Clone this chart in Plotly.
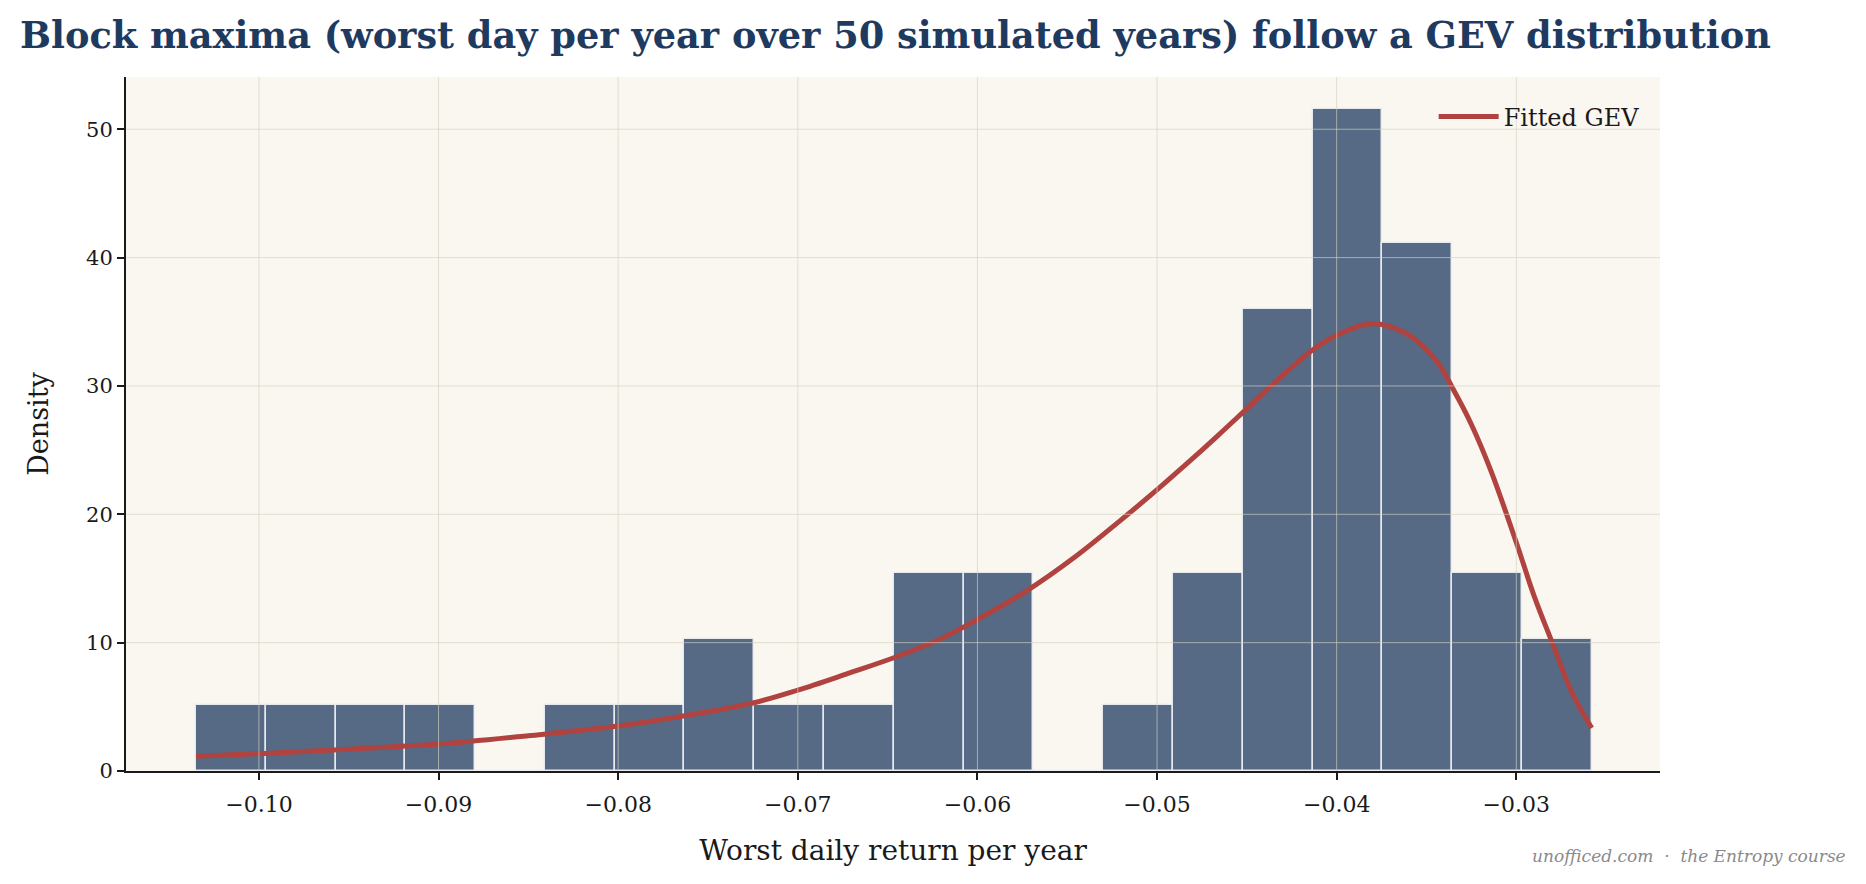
import plotly.graph_objects as go

# ---- data ----
n_years = 50
bin_edges = [-0.10350, -0.09962, -0.09573, -0.09185, -0.08796, -0.08408, -0.08019,
             -0.07631, -0.07242, -0.06854, -0.06465, -0.06077, -0.05688, -0.05300,
             -0.04911, -0.04523, -0.04134, -0.03746, -0.03357, -0.02969, -0.02580]
bin_counts = [1, 1, 1, 1, 0, 1, 1, 2, 1, 1, 3, 3, 0, 1, 3, 7, 10, 8, 3, 2]

gev_x = [-0.1035, -0.1000, -0.0950, -0.0900, -0.0850, -0.0800, -0.0763, -0.0725,
         -0.0700, -0.0672, -0.0645, -0.0622, -0.0600, -0.0573, -0.0545, -0.0521,
         -0.0498, -0.0485, -0.0466, -0.0451, -0.0433, -0.0414, -0.0400, -0.0381,
         -0.0362, -0.0345, -0.0334, -0.0325, -0.0314, -0.0300, -0.0290, -0.0280,
         -0.0269, -0.0258]
gev_y = [1.15, 1.35, 1.70, 2.10, 2.75, 3.50, 4.30, 5.30,
         6.30, 7.60, 8.90, 10.20, 11.80, 14.00, 16.75, 19.45,
         22.15, 23.75, 26.15, 28.10, 30.45, 32.75, 33.95, 34.85,
         34.15, 32.05, 29.45, 27.00, 23.35, 17.80, 13.60, 10.00,
         6.10, 3.35]

x_tick_vals = [-0.10, -0.09, -0.08, -0.07, -0.06, -0.05, -0.04, -0.03]
x_tick_text = ["\u22120.10", "\u22120.09", "\u22120.08", "\u22120.07",
               "\u22120.06", "\u22120.05", "\u22120.04", "\u22120.03"]
y_tick_vals = [0, 10, 20, 30, 40, 50]

# ---- derived ----
widths = [bin_edges[i + 1] - bin_edges[i] for i in range(len(bin_counts))]
centers = [(bin_edges[i] + bin_edges[i + 1]) / 2 for i in range(len(bin_counts))]
density = [c / (n_years * w) for c, w in zip(bin_counts, widths)]

SERIF = "DejaVu Serif"
BG = "#FAF7F0"
GRID = "rgba(214,209,190,0.65)"

W, H = 1866, 884
ML, MR, MT, MB = 126, 206, 77, 113
PW, PH = W - ML - MR, H - MT - MB

fig = go.Figure()
fig.add_trace(go.Bar(
    x=centers, y=density, width=widths,
    marker=dict(color="#566A85", line=dict(color="rgba(236,238,242,0.95)", width=1.5)),
    showlegend=False, hoverinfo="skip",
))
fig.add_trace(go.Scatter(
    x=gev_x, y=gev_y, mode="lines", name="Fitted GEV",
    line=dict(color="#B0433F", width=5, shape="spline", smoothing=1.0),
))

shapes = []
for v in x_tick_vals:
    shapes.append(dict(type="line", xref="x", yref="paper", x0=v, x1=v, y0=0, y1=1,
                       line=dict(color=GRID, width=1), layer="above"))
for v in y_tick_vals[1:]:
    shapes.append(dict(type="line", xref="paper", yref="y", x0=0, x1=1, y0=v, y1=v,
                       line=dict(color=GRID, width=1), layer="above"))

fig.update_layout(
    width=W, height=H, autosize=False,
    paper_bgcolor="white", plot_bgcolor=BG,
    margin=dict(l=ML, r=MR, t=MT, b=MB),
    font=dict(family=SERIF, color="#1a1a1a"),
    title=dict(text="<b>Block maxima (worst day per year over 50 simulated years) follow a GEV distribution</b>",
               x=20 / W, xanchor="left", xref="container",
               y=1 - 35 / H, yanchor="middle", yref="container",
               font=dict(family=SERIF, size=36.7, color="#1F3A5F")),
    bargap=0,
    shapes=shapes,
    showlegend=True,
    legend=dict(x=0.99, xanchor="right", y=0.975, yanchor="top",
                bgcolor="rgba(0,0,0,0)", borderwidth=0, itemwidth=60,
                font=dict(family=SERIF, size=24, color="#1a1a1a")),
    annotations=[dict(text="unofficed.com  \u00b7  the Entropy course",
                      xref="paper", yref="paper",
                      x=(1848 - ML) / PW, xanchor="right",
                      y=(H - MB - 856) / PH, yanchor="middle",
                      showarrow=False,
                      font=dict(family=SERIF, size=17, color="#8a8a8a", style="italic"))],
)
fig.update_xaxes(
    range=[-0.1074, -0.0220], tickvals=x_tick_vals, ticktext=x_tick_text,
    showgrid=False, zeroline=False,
    showline=True, linecolor="#1a1a1a", linewidth=2,
    ticks="outside", ticklen=7, tickwidth=1.5, tickcolor="#1a1a1a",
    ticklabelstandoff=6,
    tickfont=dict(family=SERIF, size=22, color="#1a1a1a"),
    title=dict(text="Worst daily return per year", standoff=24,
               font=dict(family=SERIF, size=28, color="#1a1a1a")),
)
fig.update_yaxes(
    range=[0, 54.07], tickvals=y_tick_vals,
    showgrid=False, zeroline=False,
    showline=True, linecolor="#1a1a1a", linewidth=2,
    ticks="outside", ticklen=7, tickwidth=1.5, tickcolor="#1a1a1a",
    tickfont=dict(family=SERIF, size=21, color="#1a1a1a"),
    title=dict(text="Density", standoff=30,
               font=dict(family=SERIF, size=27, color="#1a1a1a")),
)

fig.write_html("out.html")
